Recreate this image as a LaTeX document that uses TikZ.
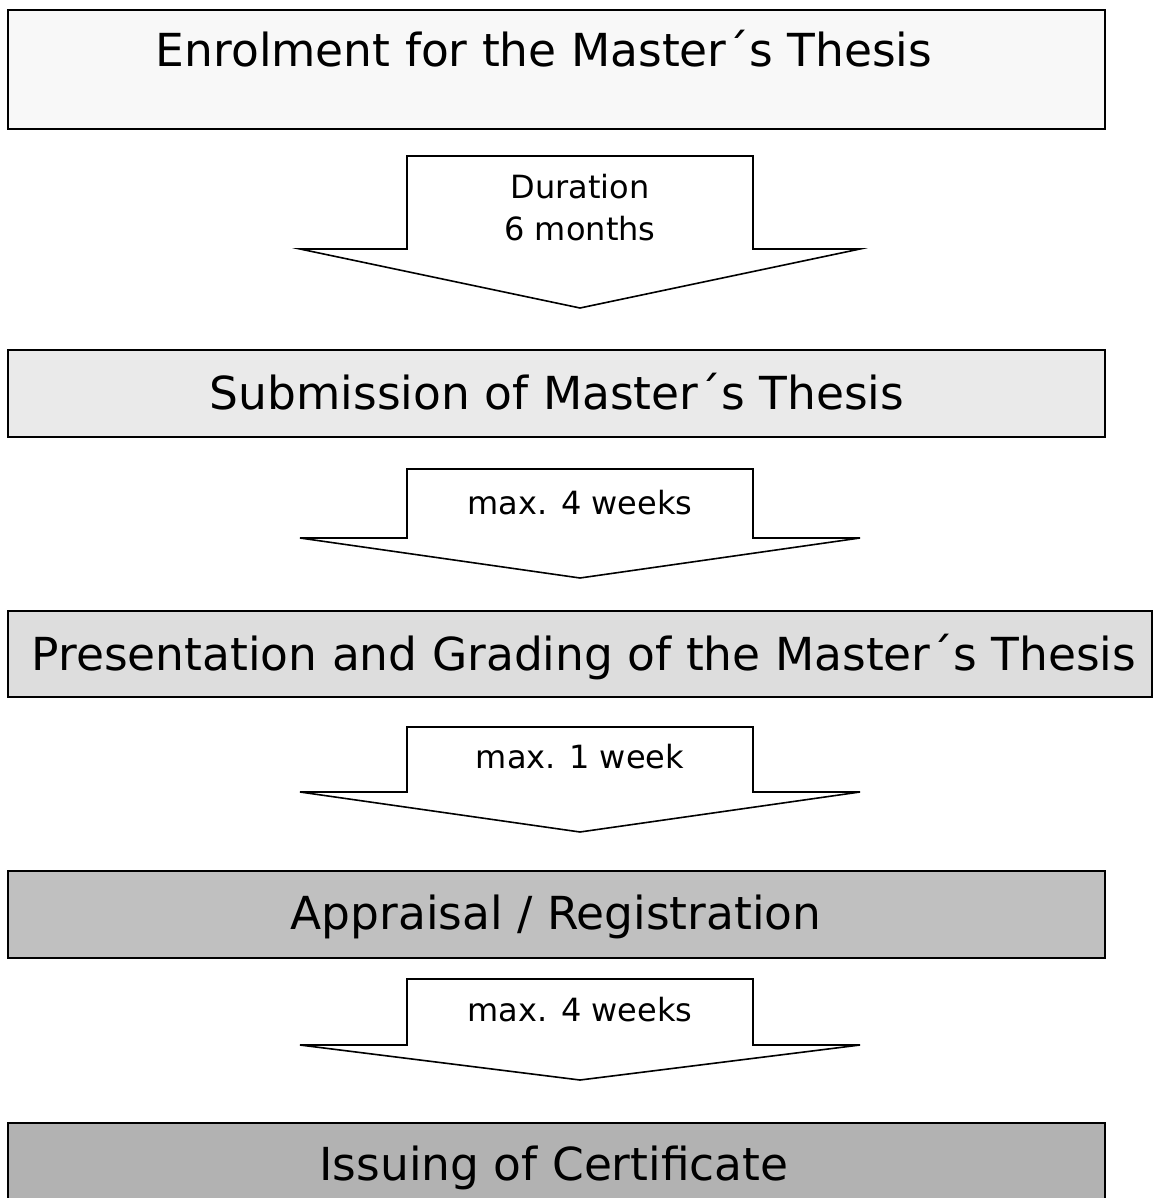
\documentclass[tikz,border=0pt]{standalone}
\usepackage{fontspec}
\setmainfont{DejaVu Sans}
\definecolor{fillA}{HTML}{F8F8F8}
\definecolor{fillB}{HTML}{EAEAEA}
\definecolor{fillC}{HTML}{DDDDDD}
\definecolor{fillD}{HTML}{C0C0C0}
\definecolor{fillE}{HTML}{B2B2B2}
\begin{document}
\begin{tikzpicture}[x=1pt,y=-1pt,
  stagebox/.style={draw=black, line width=2pt},
  flowarrow/.style={draw=black, fill=white, line width=1.6pt, line join=miter},
  bigtext/.style={font=\fontsize{45.5}{50}\selectfont, anchor=base, inner sep=0pt},
  smalltext/.style={font=\fontsize{32}{42}\selectfont, anchor=base, inner sep=0pt, align=center}]
\useasboundingbox (0,0) rectangle (1153,1198);
% boxes
\path[stagebox, fill=fillA] (8,10) rectangle (1105,129);
\path[stagebox, fill=fillB] (8,350) rectangle (1105,437);
\path[stagebox, fill=fillC] (8,611) rectangle (1152,697);
\path[stagebox, fill=fillD] (8,871) rectangle (1105,958);
\path[stagebox, fill=fillE] (8,1123) rectangle (1105,1230);
\node[bigtext] (t1) at (544,67) {Enrolment for the Master´s Thesis};
\node[bigtext] (t2) at (557,409) {Submission of Master´s Thesis};
\node[bigtext] (t3) at (584,670) {Presentation and Grading of the Master´s Thesis};
\node[bigtext] (t4) at (556,929) {Appraisal / Registration};
\node[bigtext] (t5) at (554,1180) {Issuing of Certificate};
% arrows
\draw[flowarrow] (407,156) -- (753,156) -- (753,249) -- (860,249) -- (580,308) -- (300,249) -- (407,249) -- cycle;
\draw[flowarrow] (407,469) -- (753,469) -- (753,538) -- (860,538) -- (580,578) -- (300,538) -- (407,538) -- cycle;
\draw[flowarrow] (407,727) -- (753,727) -- (753,792) -- (860,792) -- (580,832) -- (300,792) -- (407,792) -- cycle;
\draw[flowarrow] (407,979) -- (753,979) -- (753,1045) -- (860,1045) -- (580,1080) -- (300,1045) -- (407,1045) -- cycle;
\node[smalltext, anchor=center] (l1) at (580,208) {Duration\\6 months};
\node[smalltext] (l2) at (580,514) {max. 4 weeks};
\node[smalltext] (l3) at (580,768) {max. 1 week};
\node[smalltext] (l4) at (580,1021) {max. 4 weeks};
\end{tikzpicture}
\end{document}
